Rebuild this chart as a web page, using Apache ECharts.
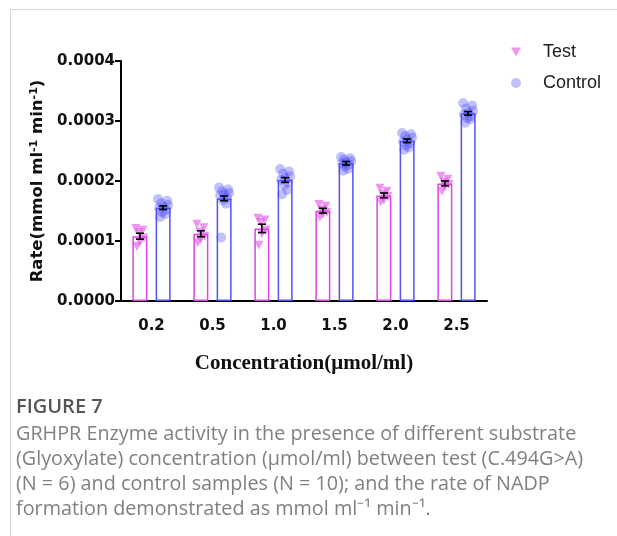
<!DOCTYPE html>
<html>
<head>
<meta charset="utf-8">
<script src="https://cdn.jsdelivr.net/npm/echarts@6/dist/echarts.min.js"></script>
<style>
  html, body { margin: 0; padding: 0; background: #fff; }
  #chart { width: 617px; height: 536px; }
</style>
</head>
<body>
<div id="chart"></div>
<script>
// concentrations (umol/ml)
var categories = ['0.2', '0.5', '1.0', '1.5', '2.0', '2.5'];

// bar heights = group means
var testMean = [0.000108, 0.000112, 0.000121, 0.0001505, 0.000176, 0.000196];
var controlMean = [0.0001555, 0.000171, 0.0002017, 0.0002295, 0.000267, 0.0003128];
// error bars (SEM)
var testSem = [0.000005, 0.000005, 0.000007, 0.000004, 0.000004, 0.000004];
var controlSem = [0.000003, 0.000004, 0.000004, 0.000003, 0.000003, 0.000003];

// single samples, N = 6 test, N = 10 control
var testPoints = [
  [0.000121, 0.000118, 0.000114, 0.000105, 0.000098, 0.000091],
  [0.000128, 0.000122, 0.000115, 0.000108, 0.000103, 0.000097],
  [0.000138, 0.000135, 0.000131, 0.000118, 0.000112, 0.000093],
  [0.000161, 0.000158, 0.000152, 0.000148, 0.000144, 0.000140],
  [0.000188, 0.000183, 0.000178, 0.000174, 0.000168, 0.000165],
  [0.000208, 0.000203, 0.000198, 0.000194, 0.000190, 0.000183]
];
var controlPoints = [
  [0.000170, 0.000167, 0.000163, 0.000160, 0.000157, 0.000155, 0.000152, 0.000148, 0.000145, 0.000140],
  [0.000189, 0.000186, 0.000183, 0.000180, 0.000178, 0.000176, 0.000172, 0.000168, 0.000162, 0.000106],
  [0.000220, 0.000216, 0.000212, 0.000208, 0.000205, 0.000202, 0.000198, 0.000193, 0.000185, 0.000178],
  [0.000240, 0.000238, 0.000236, 0.000233, 0.000231, 0.000229, 0.000227, 0.000224, 0.000220, 0.000217],
  [0.000280, 0.000278, 0.000275, 0.000272, 0.000269, 0.000266, 0.000263, 0.000259, 0.000256, 0.000252],
  [0.000330, 0.000326, 0.000321, 0.000317, 0.000314, 0.000311, 0.000308, 0.000305, 0.000303, 0.000297]
];

var captionTitle = 'FIGURE 7';
var captionLines = [
  'GRHPR Enzyme activity in the presence of different substrate',
  '(Glyoxylate) concentration (\u03bcmol/ml) between test (C.494G>A)',
  '(N = 6) and control samples (N = 10); and the rate of NADP',
  'formation demonstrated as mmol ml\u207b\u00b9 min\u207b\u00b9.'
];

// layout / style
var PINK = '#de45e4';
var BLUE = '#5252fb';
var BAR_W = 15;
var HALF = 11.6; // bar centre offset from category centre
var testJitter = [-4, 3, -1, 4, 0, -3];
var controlJitter = [-5, 4, -2, 5, 0, -4, 3, -1, 2, -3];
var DOWN_TRIANGLE = 'path://M0,0L10,0L5,9Z';

function scatterData(points, jitter, side) {
  var out = [];
  points.forEach(function (grp, i) {
    grp.forEach(function (v, k) {
      out.push({ value: [i, v], symbolOffset: [side * HALF + jitter[k % jitter.length], 0] });
    });
  });
  return out;
}

function errData(mean, sem) {
  return mean.map(function (m, i) { return [i, m, sem[i]]; });
}

function errRender(side) {
  return function (params, api) {
    var i = api.value(0), m = api.value(1), s = api.value(2);
    var lo = api.coord([i, m - s]);
    var hi = api.coord([i, m + s]);
    var x = lo[0] + side * HALF;
    var st = { stroke: '#000', lineWidth: 1.6 };
    return {
      type: 'group',
      children: [
        { type: 'line', shape: { x1: x, y1: lo[1], x2: x, y2: hi[1] }, style: st },
        { type: 'line', shape: { x1: x - 4, y1: lo[1], x2: x + 4, y2: lo[1] }, style: st },
        { type: 'line', shape: { x1: x - 4, y1: hi[1], x2: x + 4, y2: hi[1] }, style: st }
      ]
    };
  };
}

var chart = echarts.init(document.getElementById('chart'));

var graphics = [
  { type: 'line', shape: { x1: 10, y1: 9.5, x2: 617, y2: 9.5 }, style: { stroke: '#d6d6d6', lineWidth: 1 } },
  { type: 'line', shape: { x1: 10.5, y1: 9.5, x2: 10.5, y2: 536 }, style: { stroke: '#d6d6d6', lineWidth: 1 } },
  { type: 'text', x: 16, y: 407, style: { text: captionTitle, font: '600 20px "Open Sans"', fill: '#555', verticalAlign: 'middle' } }
];
captionLines.forEach(function (t, i) {
  graphics.push({ type: 'text', x: 16, y: 434 + i * 25, style: { text: t, font: '19.8px "Open Sans"', fill: '#808080', verticalAlign: 'middle' } });
});

var option = {
  animation: false,
  backgroundColor: '#fff',
  grid: { left: 121, width: 366, top: 61, bottom: 235 },
  legend: {
    data: [{ name: 'Test', icon: DOWN_TRIANGLE }, { name: 'Control' }],
    orient: 'vertical',
    left: 506,
    top: 38,
    itemWidth: 10,
    itemHeight: 10,
    itemGap: 13,
    textStyle: { fontFamily: 'Liberation Sans', fontSize: 18, color: '#222', padding: [0, 0, 0, 17] }
  },
  xAxis: {
    type: 'category',
    data: categories,
    name: 'Concentration(\u03bcmol/ml)',
    nameLocation: 'middle',
    nameGap: 52,
    nameTextStyle: { fontFamily: 'Liberation Serif', fontWeight: 'bold', fontSize: 21, color: '#111' },
    axisLine: { lineStyle: { color: '#000', width: 2 } },
    axisTick: { alignWithLabel: true, length: 6, lineStyle: { width: 2, color: '#000' } },
    axisLabel: { margin: 18, fontFamily: 'DejaVu Sans', fontWeight: 'bold', fontSize: 15, color: '#111' }
  },
  yAxis: {
    type: 'value',
    min: 0,
    max: 0.0004,
    interval: 0.0001,
    name: 'Rate(mmol ml{sup|-1} min{sup|-1})',
    nameLocation: 'middle',
    nameRotate: 90,
    nameGap: 68,
    nameTextStyle: {
      fontFamily: 'DejaVu Sans', fontWeight: 'bold', fontSize: 16.5, color: '#111',
      rich: { sup: { fontFamily: 'DejaVu Sans', fontWeight: 'bold', fontSize: 11, color: '#111', verticalAlign: 'bottom', padding: [0, 0, 8, 0] } }
    },
    axisLine: { show: true, lineStyle: { color: '#000', width: 2 } },
    axisTick: { show: true, length: 6, lineStyle: { width: 2, color: '#000' } },
    splitLine: { show: false },
    axisLabel: {
      margin: 6, fontFamily: 'DejaVu Sans', fontWeight: 'bold', fontSize: 15, color: '#111',
      formatter: function (v) { return v.toFixed(4); }
    }
  },
  graphic: graphics,
  series: [
    {
      name: 'Test mean', type: 'bar', data: testMean, barWidth: BAR_W, barGap: '55%',
      itemStyle: { color: '#fff', borderColor: PINK, borderWidth: 1.5 }
    },
    {
      name: 'Control mean', type: 'bar', data: controlMean, barWidth: BAR_W,
      itemStyle: { color: '#fff', borderColor: BLUE, borderWidth: 1.5 }
    },
    {
      name: 'Test', type: 'scatter', data: scatterData(testPoints, testJitter, -1),
      symbol: 'triangle', symbolRotate: 180, symbolSize: 9, z: 3,
      itemStyle: { color: 'rgba(225, 80, 230, 0.75)' }
    },
    {
      name: 'Control', type: 'scatter', data: scatterData(controlPoints, controlJitter, 1),
      symbol: 'circle', symbolSize: 10, z: 3,
      itemStyle: { color: 'rgba(70, 70, 250, 0.42)' }
    },
    {
      name: 'Test err', type: 'custom', data: errData(testMean, testSem), z: 4,
      renderItem: errRender(-1), encode: { x: 0, y: 1 }
    },
    {
      name: 'Control err', type: 'custom', data: errData(controlMean, controlSem), z: 4,
      renderItem: errRender(1), encode: { x: 0, y: 1 }
    }
  ]
};

chart.setOption(option);
</script>
</body>
</html>
